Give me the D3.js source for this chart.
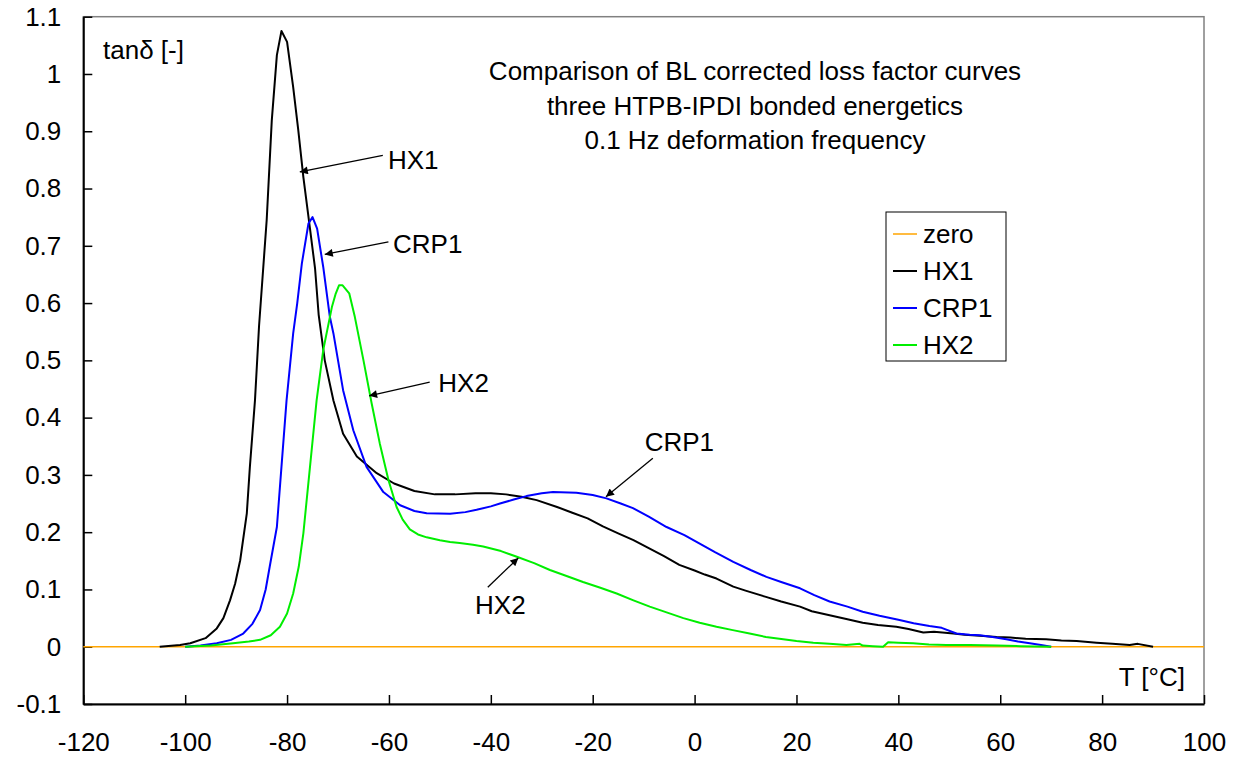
<!DOCTYPE html>
<html>
<head>
<meta charset="utf-8">
<script src="https://cdn.jsdelivr.net/npm/d3@7"></script>
<style>
  body { margin: 0; background: #fff; }
  svg text { font-family: "Liberation Sans", Arial, sans-serif; fill: #000; }
</style>
</head>
<body>
<svg id="chart" width="1249" height="759"></svg>
<script>
// tick values
const xTicks = [-120, -100, -80, -60, -40, -20, 0, 20, 40, 60, 80, 100];
const yTicks = [-0.1, 0, 0.1, 0.2, 0.3, 0.4, 0.5, 0.6, 0.7, 0.8, 0.9, 1, 1.1];

const titleLines = ["Comparison of BL corrected loss factor curves",
                    "three HTPB-IPDI bonded energetics",
                    "0.1 Hz deformation frequency"];

// [T (°C), tan delta]
const zero = [[-120, 0], [100, 0]];

const hx1 = [[-105, 0], [-101, 0.003], [-99, 0.006], [-96, 0.015], [-93.8, 0.032], [-92.5, 0.05],
  [-91.2, 0.081], [-90.2, 0.11], [-89.2, 0.151], [-87.9, 0.233], [-87.3, 0.314], [-86.3, 0.43],
  [-85.5, 0.56], [-84.0, 0.745], [-83.0, 0.919], [-82.0, 1.033], [-81.1, 1.075], [-80.0, 1.056],
  [-78.8, 0.977], [-77.8, 0.902], [-76.8, 0.82], [-75.5, 0.73], [-74.5, 0.66], [-73.8, 0.58],
  [-72.6, 0.50], [-70.9, 0.43], [-69.0, 0.372], [-66.3, 0.332], [-62.4, 0.303], [-59, 0.285],
  [-55, 0.272], [-51, 0.266], [-47, 0.266], [-43, 0.268], [-40, 0.268], [-37, 0.266], [-34, 0.262],
  [-31, 0.256], [-27, 0.244], [-24, 0.234], [-21, 0.224], [-18, 0.21], [-15, 0.198], [-12, 0.186],
  [-9, 0.172], [-6, 0.158], [-3, 0.143], [0, 0.133], [2, 0.126], [4.3, 0.119], [7.6, 0.105],
  [10, 0.098], [14, 0.087], [17, 0.079], [20.7, 0.07], [23, 0.062], [26.5, 0.055], [30, 0.048],
  [33, 0.042], [36, 0.038], [39.6, 0.035], [42, 0.031], [44.9, 0.025], [47, 0.026], [50.8, 0.023],
  [53, 0.021], [56, 0.019], [59.3, 0.017], [62, 0.016], [65, 0.014], [69, 0.013], [72, 0.011],
  [75, 0.010], [78.9, 0.007], [82, 0.005], [85.4, 0.003], [87, 0.005], [90, 0]];

const crp1 = [[-100, 0], [-97, 0.002], [-93.8, 0.006], [-91, 0.012], [-88.6, 0.023], [-86.8, 0.04],
  [-85.3, 0.064], [-84.2, 0.1], [-83.4, 0.14], [-82.0, 0.209], [-81.1, 0.314], [-80.1, 0.43],
  [-78.8, 0.547], [-78.0, 0.6], [-77.1, 0.669], [-75.8, 0.739], [-75.0, 0.75], [-74.1, 0.73],
  [-72.9, 0.663], [-71.6, 0.576], [-70.9, 0.547], [-69.0, 0.448], [-67.0, 0.378], [-64.4, 0.314],
  [-61.1, 0.27], [-57.8, 0.247], [-55, 0.237], [-52.6, 0.233], [-48.0, 0.232], [-45, 0.235],
  [-42.8, 0.239], [-40, 0.245], [-38.2, 0.25], [-35.5, 0.257], [-33.0, 0.263], [-30, 0.268],
  [-27.8, 0.27], [-23.2, 0.269], [-20, 0.265], [-17.3, 0.259], [-14.5, 0.25], [-12.1, 0.242],
  [-9, 0.227], [-5.5, 0.209], [-2, 0.195], [1.0, 0.18], [4, 0.165], [7.6, 0.148], [11, 0.134],
  [14.1, 0.122], [17, 0.113], [20.7, 0.102], [23.5, 0.09], [26.5, 0.079], [30, 0.07], [33, 0.061],
  [36.3, 0.054], [40, 0.047], [43, 0.041], [46.1, 0.036], [48.5, 0.033], [51.4, 0.023], [54, 0.021],
  [56, 0.02], [58.5, 0.017], [61.2, 0.013], [63.5, 0.009], [65.8, 0.006], [68, 0.003], [70, 0]];

const hx2 = [[-100, 0], [-95, 0.002], [-90.6, 0.006], [-87.5, 0.009], [-85.3, 0.012], [-83.2, 0.02],
  [-81.4, 0.035], [-80.0, 0.058], [-78.8, 0.093], [-77.7, 0.14], [-76.8, 0.198], [-75.5, 0.314],
  [-74.2, 0.43], [-72.9, 0.518], [-71.2, 0.593], [-70.5, 0.615], [-69.8, 0.631], [-69.1, 0.631],
  [-67.8, 0.617], [-66.7, 0.576], [-65.0, 0.5], [-63.4, 0.425], [-61.8, 0.355], [-60.1, 0.291],
  [-58.5, 0.244], [-57.3, 0.222], [-55.9, 0.205], [-54.3, 0.196], [-52.6, 0.191], [-50, 0.186],
  [-48.0, 0.183], [-46.1, 0.181], [-43.5, 0.178], [-41.5, 0.175], [-38, 0.167], [-34.9, 0.157],
  [-31.5, 0.146], [-28.4, 0.134], [-25, 0.123], [-21.9, 0.113], [-18.5, 0.103], [-15.3, 0.093],
  [-12, 0.081], [-8.8, 0.07], [-5.5, 0.06], [-2.2, 0.05], [1, 0.042], [4.3, 0.035], [7.5, 0.029],
  [10.8, 0.023], [14, 0.017], [17.4, 0.013], [20, 0.01], [23.3, 0.007], [26.5, 0.005], [29.8, 0.003],
  [32.4, 0.005], [33, 0.002], [35, 0.001], [37.0, 0], [38.0, 0.008], [40, 0.007], [42.9, 0.006],
  [46, 0.004], [49.4, 0.003], [54, 0.003], [59.3, 0.002], [64, 0.001], [70, 0]];

const seriesNames = ["zero", "HX1", "CRP1", "HX2"];
const seriesData = [zero, hx1, crp1, hx2];
const seriesColors = ["#ffa500", "#000000", "#0000ff", "#00ee00"];

// annotation labels and arrows: [label, textT, textVal, fromT, fromVal, toT, toVal]
const notes = [
  ["HX1", -60.2, 0.849, -61.2, 0.858, -77.5, 0.829],
  ["CRP1", -59.2, 0.704, -60.1, 0.707, -72.6, 0.685],
  ["HX2", -50.3, 0.46, -52.0, 0.462, -63.9, 0.438],
  ["CRP1", -9.8, 0.358, -8.2, 0.329, -17.4, 0.262],
  ["HX2", -43.1, 0.073, -40.6, 0.104, -34.6, 0.155]
];

const svg = d3.select("#chart");
const padL = 83.3, padR = 1204, padT = 16.7, padB = 704;
const fs = 26;

const x = d3.scaleLinear().domain([-120, 100]).range([padL, padR]);
const y = d3.scaleLinear().domain([-0.1, 1.1]).range([padB, padT]);

// plot frame
svg.append("rect")
  .attr("x", padL).attr("y", padT)
  .attr("width", padR - padL).attr("height", padB - padT)
  .attr("fill", "none").attr("stroke", "#808080").attr("stroke-width", 1.5);

// axes (plain hyphen for minus, like the original)
const yAxis = svg.append("g")
  .attr("transform", `translate(${padL},0)`)
  .call(d3.axisLeft(y).tickValues(yTicks).tickSizeInner(-9).tickSizeOuter(0)
    .tickPadding(22).tickFormat(d => String(+d.toFixed(1))));
const xAxis = svg.append("g")
  .attr("transform", `translate(0,${padB})`)
  .call(d3.axisBottom(x).tickValues(xTicks).tickSizeInner(-9).tickSizeOuter(0)
    .tickPadding(29).tickFormat(d => String(d)));

[xAxis, yAxis].forEach(a => {
  a.select(".domain").attr("stroke", "#000").attr("stroke-width", 2);
  a.selectAll(".tick line").attr("stroke", "#000").attr("stroke-width", 1.5);
  a.selectAll(".tick text").attr("font-size", fs).attr("font-family", "Liberation Sans, Arial, sans-serif");
});

// curves
const line = d3.line().x(d => x(d[0])).y(d => y(d[1]));
seriesData.forEach((s, i) => {
  svg.append("path")
    .datum(s)
    .attr("d", line)
    .attr("fill", "none")
    .attr("stroke", seriesColors[i])
    .attr("stroke-width", i === 0 ? 1.5 : 2)
    .attr("stroke-linejoin", "round");
});

// axis titles
svg.append("text").attr("x", 103).attr("y", 50)
  .attr("dominant-baseline", "central").attr("font-size", fs).text("tanδ [-]");
svg.append("text").attr("x", 1185).attr("y", 677)
  .attr("text-anchor", "end").attr("dominant-baseline", "central").attr("font-size", fs).text("T [°C]");

// chart title
svg.append("g").selectAll("text")
  .data(titleLines).join("text")
  .attr("x", 755).attr("y", (d, i) => 71 + i * 34.5)
  .attr("text-anchor", "middle").attr("dominant-baseline", "central")
  .attr("font-size", fs).text(d => d);

// arrowhead
svg.append("defs").append("marker")
  .attr("id", "arrow").attr("viewBox", "0 0 10 10")
  .attr("refX", 10).attr("refY", 5)
  .attr("markerWidth", 10).attr("markerHeight", 8)
  .attr("markerUnits", "userSpaceOnUse")
  .attr("orient", "auto")
  .append("path").attr("d", "M0,0 L10,5 L0,10 Z").attr("fill", "#000");

const ann = svg.append("g");
notes.forEach(n => {
  ann.append("line")
    .attr("x1", x(n[3])).attr("y1", y(n[4]))
    .attr("x2", x(n[5])).attr("y2", y(n[6]))
    .attr("stroke", "#000").attr("stroke-width", 1.3)
    .attr("marker-end", "url(#arrow)");
  ann.append("text")
    .attr("x", x(n[1])).attr("y", y(n[2]))
    .attr("dominant-baseline", "central")
    .attr("font-size", fs).text(n[0]);
});

// legend
const lg = svg.append("g").attr("transform", "translate(886,212)");
lg.append("rect").attr("width", 120).attr("height", 149)
  .attr("fill", "#fff").attr("stroke", "#000").attr("stroke-width", 1);
seriesNames.forEach((name, i) => {
  const cy = 22 + i * 37;
  lg.append("line").attr("x1", 7).attr("x2", 31).attr("y1", cy).attr("y2", cy)
    .attr("stroke", seriesColors[i]).attr("stroke-width", i === 0 ? 1.5 : 2);
  lg.append("text").attr("x", 37).attr("y", cy)
    .attr("dominant-baseline", "central").attr("font-size", fs).text(name);
});
</script>
</body>
</html>
